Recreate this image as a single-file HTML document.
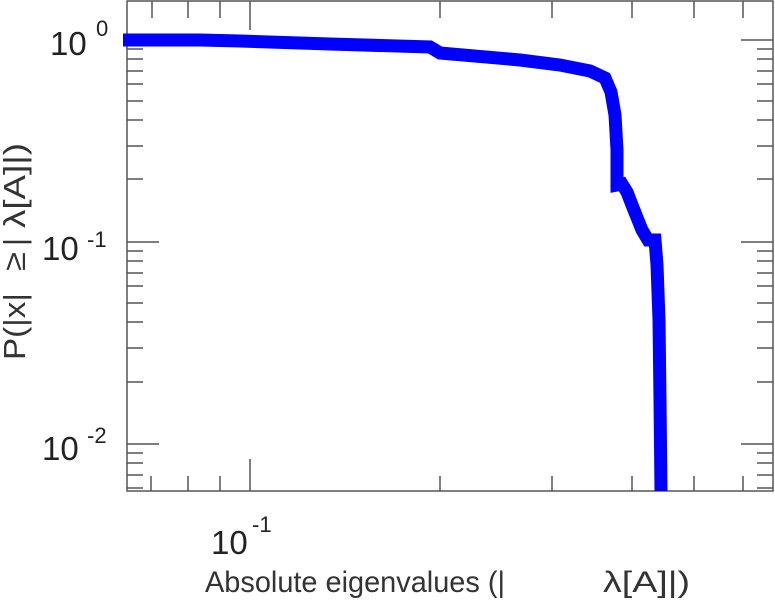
<!DOCTYPE html>
<html><head><style>body{margin:0;background:#fff}</style></head><body>
<svg width="775" height="600" xmlns="http://www.w3.org/2000/svg" font-family="Liberation Sans, sans-serif" fill="#222">
<g stroke="#555" stroke-width="1.5" fill="none">
<rect x="127" y="1" width="646" height="490"/>
<path d="M151 491v-15M188 491v-15M220 491v-15M250 491v-32M440 491v-15M552 491v-15M632 491v-15M694 491v-15M743 491v-15"/>
<path d="M152 1v17M188 1v17M220 1v17M250 1v29M440 1v17M552 1v17M632 1v17M694 1v17M743 1v17"/>
<path d="M127 40h32M127 49h16M127 59h16M127 71h16M127 84h16M127 101h16M127 120h16M127 146h16M127 179h16M127 242h32M127 251h16M127 261h16M127 273h16M127 286h16M127 303h16M127 322h16M127 348h16M127 382h16M127 444h32M127 453h16M127 463h16M127 475h16M127 488h16"/>
<path d="M773 40h-32M773 49h-16M773 59h-16M773 71h-16M773 84h-16M773 101h-16M773 120h-16M773 146h-16M773 179h-16M773 242h-32M773 251h-16M773 261h-16M773 273h-16M773 286h-16M773 303h-16M773 322h-16M773 348h-16M773 382h-16M773 444h-32M773 453h-16M773 463h-16M773 475h-16M773 488h-16"/>
</g>
<polyline fill="none" stroke="#0000ff" stroke-width="13" stroke-linejoin="miter" points="123,40 200,40 240,41 330,44 430,47 440,53 520,60 560,65 590,71 605,78 611,92 615,115 617,150 617,185 622,184 627,192 632,205 636,215 642,230 648,240 655,240 657,265 659,320 660,400 661,491"/>
<g font-size="33" fill="#222">
<text x="50" y="55">10</text><text x="96" y="36" font-size="22">0</text>
<text x="42" y="260">10</text><text x="87" y="247" font-size="22">-1</text>
<text x="42" y="460">10</text><text x="87" y="443" font-size="22">-2</text>
<text x="211" y="554">10</text><text x="252" y="532" font-size="22">-1</text>
</g>
<text x="205" y="592" font-size="30" fill="#333" textLength="300" lengthAdjust="spacingAndGlyphs">Absolute eigenvalues (|</text>
<text x="603" y="592" font-size="30" fill="#333" textLength="87" lengthAdjust="spacingAndGlyphs">λ[A]|)</text>
<g transform="rotate(-90)" font-size="31" fill="#333">
<text x="-360" y="25" textLength="67" lengthAdjust="spacingAndGlyphs">P(|x|</text>
<text x="-271" y="25" textLength="19" lengthAdjust="spacingAndGlyphs">≥</text>
<text x="-246" y="25">|</text>
<text x="-228" y="25" textLength="85" lengthAdjust="spacingAndGlyphs">λ[A]|)</text>
</g>
</svg>
</body></html>
